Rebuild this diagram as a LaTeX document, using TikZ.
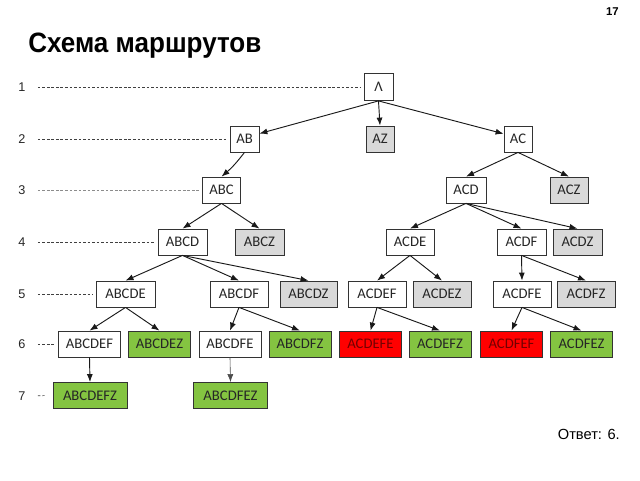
\documentclass[tikz,border=0pt]{standalone}
\usepackage{fontspec}
\usepackage{graphicx}
\setmainfont{Liberation Sans}
\newfontfamily\carl{Carlito}
\usetikzlibrary{arrows.meta}
\definecolor{boxgray}{HTML}{D9D9D9}
\definecolor{boxgreen}{HTML}{84C441}
\definecolor{boxred}{HTML}{FF0000}
\begin{document}
\begin{tikzpicture}[x=0.75pt,y=-0.75pt,
 bx/.style={draw=black!80, line width=0.6pt, minimum height=19.5pt, inner sep=0pt, fill=white, font=\carl\fontsize{11}{12}\selectfont, text=black!85},
 gr/.style={bx, fill=boxgray},
 gn/.style={bx, fill=boxgreen},
 rd/.style={bx, fill=boxred, text=red!45!black},
 lab/.style={font=\fontsize{9.5}{11}\selectfont, inner sep=0pt, text=black!85},
 guide/.style={draw=black!75, line width=0.5pt, dash pattern=on 2pt off 1.4pt, shorten <=9pt, shorten >=2pt},
 arr/.style={-{Latex[length=6pt,width=4.5pt]}, line width=0.7pt, draw=black!90}
]
\useasboundingbox (0,0) rectangle (640,480);

% title and texts
\node[anchor=base west, inner sep=0pt, font=\bfseries\fontsize{21}{24}\selectfont] (title) at (28,52) {\scalebox{0.93}[1]{Схема маршрутов}};
\node[anchor=base east, inner sep=0pt, font=\bfseries\fontsize{8.5}{10}\selectfont] (pg) at (619,15) {17};
\node[anchor=base east, inner sep=0pt, font=\fontsize{11}{13}\selectfont] (ans) at (620,439) {Ответ: 6.};

% row labels
\node[lab] (l1) at (22,87) {1};
\node[lab] (l2) at (22,139) {2};
\node[lab] (l3) at (22,190) {3};
\node[lab] (l4) at (22,242) {4};
\node[lab] (l5) at (22,294) {5};
\node[lab] (l6) at (22,344) {6};
\node[lab] (l7) at (22,396) {7};

% row 1
\node[bx, minimum width=21.75pt, minimum height=20.25pt] (A) at (378.5,87) {Λ};
% row 2
\node[bx, minimum width=21.75pt] (AB) at (244.5,139) {AB};
\node[gr, minimum width=21pt] (AZ) at (380,139) {AZ};
\node[bx, minimum width=21pt] (AC) at (518,139) {AC};
% row 3
\node[bx, minimum width=28.5pt] (ABC) at (221.5,190) {ABC};
\node[bx, minimum width=30pt] (ACD) at (466,190) {ACD};
\node[gr, minimum width=28.5pt] (ACZ) at (569,190) {ACZ};
% row 4
\node[bx, minimum width=36.75pt] (ABCD) at (182.5,242) {ABCD};
\node[gr, minimum width=36.75pt] (ABCZ) at (259.5,242) {ABCZ};
\node[bx, minimum width=36pt] (ACDE) at (410,242) {ACDE};
\node[bx, minimum width=36.75pt] (ACDF) at (521.5,242) {ACDF};
\node[gr, minimum width=36.75pt] (ACDZ) at (577.5,242) {ACDZ};
% row 5
\node[bx, minimum width=44.25pt] (ABCDE) at (125.5,294) {ABCDE};
\node[bx, minimum width=43.5pt] (ABCDF) at (239,294) {ABCDF};
\node[gr, minimum width=42.75pt] (ABCDZ) at (308.5,294) {ABCDZ};
\node[bx, minimum width=43.5pt] (ACDEF) at (377,294) {ACDEF};
\node[gr, minimum width=43.5pt] (ACDEZ) at (442,294) {ACDEZ};
\node[bx, minimum width=43.5pt] (ACDFE) at (522,294) {ACDFE};
\node[gr, minimum width=43.5pt] (ACDFZ) at (586,294) {ACDFZ};
% row 6
\node[bx, minimum width=46.5pt] (ABCDEF) at (89.5,344) {ABCDEF};
\node[gn, minimum width=46.5pt] (ABCDEZ) at (159.5,344) {ABCDEZ};
\node[bx, minimum width=46.5pt] (ABCDFE) at (230,344) {ABCDFE};
\node[gn, minimum width=46.5pt] (ABCDFZ) at (300,344) {ABCDFZ};
\node[rd, minimum width=46.5pt] (ACDEFE) at (370.5,344) {ACDEFE};
\node[gn, minimum width=46.5pt] (ACDEFZ) at (440,344) {ACDEFZ};
\node[rd, minimum width=46.5pt] (ACDFEF) at (511.5,344) {ACDFEF};
\node[gn, minimum width=46.5pt] (ACDFEZ) at (581.5,344) {ACDFEZ};
% row 7
\node[gn, minimum width=55.5pt] (ABCDEFZ) at (90,395.5) {ABCDEFZ};
\node[gn, minimum width=55.5pt] (ABCDFEZ) at (230.5,395.5) {ABCDFEZ};

% guide lines
\draw[guide] (l1) -- (A.west);
\draw[guide] (l2) -- (AB.west);
\draw[guide, draw=black!45] (l3) -- (ABC.west);
\draw[guide] (l4) -- (ABCD.west);
\draw[guide] (l5) -- (ABCDE.west);
\draw[guide] (l6) -- (ABCDEF.west);
\draw[guide, shorten >=6pt] (l7) -- (ABCDEFZ.west);

% arrows
\draw[arr] (A.south) -- (AB.20);
\draw[arr] (A.south) -- (AZ.north);
\draw[arr] (A.south) -- (AC.160);
\draw[arr] (AB.south) to[bend left=6] (ABC.north);
\draw[arr] (AC.south) -- (ACD.north);
\draw[arr] (AC.south) -- (ACZ.north);
\draw[arr] (ABC.south) -- (ABCD.north);
\draw[arr] (ABC.south) -- (ABCZ.north);
\draw[arr] (ACD.south) -- (ACDE.north);
\draw[arr] (ACD.south) -- (ACDF.north);
\draw[arr] (ACD.south) -- (ACDZ.north);
\draw[arr] (ABCD.south) -- (ABCDE.north);
\draw[arr] (ABCD.south) -- (ABCDF.north);
\draw[arr] (ABCD.south) -- (ABCDZ.north);
\draw[arr] (ACDE.south) -- (ACDEF.north);
\draw[arr] (ACDE.south) -- (ACDEZ.north);
\draw[arr] (ACDF.south) -- (ACDFE.north);
\draw[arr] (ACDF.south) -- (ACDFZ.north);
\draw[arr] (ABCDE.south) -- (ABCDEF.north);
\draw[arr] (ABCDE.south) -- (ABCDEZ.north);
\draw[arr] (ABCDF.south) -- (ABCDFE.north);
\draw[arr] (ABCDF.south) -- (ABCDFZ.north);
\draw[arr] (ACDEF.south) -- (ACDEFE.north);
\draw[arr] (ACDEF.south) -- (ACDEFZ.north);
\draw[arr] (ACDFE.south) -- (ACDFEF.north);
\draw[arr] (ACDFE.south) -- (ACDFEZ.north);
\draw[arr] (ABCDEF.south) -- (ABCDEFZ.north);
\draw[arr, line width=0.45pt, draw=black!70] (ABCDFE.south) -- (ABCDFEZ.north);
\end{tikzpicture}
\end{document}
